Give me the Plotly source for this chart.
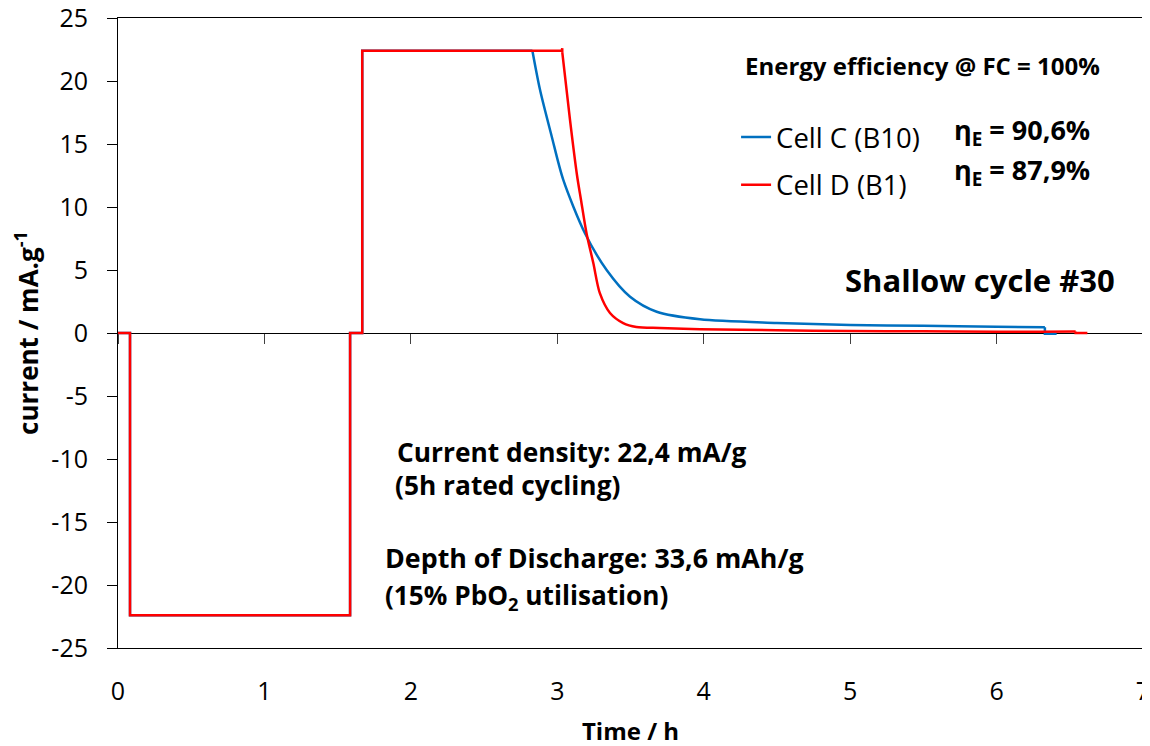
import plotly.graph_objects as go

# ---------------- data ----------------
# Cell D (B1) - red : rectangular part, charge decay, end of record
red_step_t = [0, 0.082, 0.082, 1.585, 1.585, 1.668, 1.668, 3.03, 3.034, 3.034]
red_step_y = [0, 0, -22.4, -22.4, 0, 0, 22.4, 22.4, 22.6, 22.3]
red_decay_t = [3.034, 3.087, 3.135, 3.162, 3.20, 3.246, 3.29, 3.36, 3.45, 3.54,
               3.70, 3.975, 4.5, 5.0, 5.5, 6.0, 6.3, 6.54]
red_decay_y = [22.3, 16.9, 12.5, 10.56, 7.9, 5.55, 3.18, 1.59, 0.79, 0.48,
               0.4, 0.3, 0.22, 0.16, 0.13, 0.1, 0.1, 0.12]
red_tail_t = [6.54, 6.54, 6.62]
red_tail_y = [0.12, 0, 0]

# Cell C (B10) - blue
blue_step_t = [0, 0.082, 0.082, 1.585, 1.585, 1.668, 1.668, 2.83]
blue_step_y = [0, 0, -22.4, -22.4, 0, 0, 22.4, 22.4]
blue_decay_t = [2.83, 2.882, 2.962, 3.041, 3.189, 3.337, 3.497, 3.679, 3.975,
                4.5, 5.0, 5.5, 6.0, 6.33]
blue_decay_y = [22.4, 19.3, 15.6, 12.15, 7.92, 5.0, 2.88, 1.69, 1.09,
                0.8, 0.64, 0.57, 0.5, 0.45]
blue_tail_t = [6.33, 6.33, 6.41]
blue_tail_y = [0.45, -0.05, -0.05]

y_tickvals = [-25, -20, -15, -10, -5, 0, 5, 10, 15, 20, 25]
y_ticktext = ["-25", "-20", "-15", "-10", "-5", "0", "5", "10", "15", "20", "25"]
x_tickvals = [0, 1, 2, 3, 4, 5, 6, 7]
x_ticktext = ["0", "1", "2", "3", "4", "5", "6", "7"]

FONT = "Open Sans"
BLUE = "#0070C0"
RED = "#FF0000"
LW = 2.5

fig = go.Figure()
series = [
    ("Cell C (B10)", "c", BLUE, [(blue_step_t, blue_step_y, "linear"),
                                 (blue_decay_t, blue_decay_y, "spline"),
                                 (blue_tail_t, blue_tail_y, "linear")]),
    ("Cell D (B1)", "d", RED, [(red_step_t, red_step_y, "linear"),
                               (red_decay_t, red_decay_y, "spline"),
                               (red_tail_t, red_tail_y, "linear")]),
]
for name, grp, col, parts in series:
    for i, (tx, ty, shape) in enumerate(parts):
        fig.add_trace(go.Scatter(x=tx, y=ty, mode="lines", name=name,
                                 legendgroup=grp, showlegend=(i == 0),
                                 line=dict(color=col, width=LW, shape=shape,
                                           smoothing=0.8 if shape == "spline" else None)))

# invisible trace to carry the zero-crossing axis
fig.add_trace(go.Scatter(x=[0, 7], y=[0, 0], mode="lines", xaxis="x2", yaxis="y",
                         line=dict(width=0), showlegend=False, hoverinfo="skip"))

# the page body adds an 8px offset, so the margins compensate for it
fig.update_layout(
    width=1150, height=746,
    margin=dict(l=110, r=15, t=10, b=106, autoexpand=False),
    paper_bgcolor="white", plot_bgcolor="white",
    font=dict(family=FONT, color="black"),
    showlegend=True,
    legend=dict(x=0.603, y=0.850, xanchor="left", yanchor="top",
                font=dict(family=FONT, size=27.5, color="black"),
                bgcolor="rgba(0,0,0,0)", tracegroupgap=9, itemwidth=30),
    xaxis=dict(range=[0, 7], tickvals=x_tickvals, ticktext=x_ticktext,
               showgrid=False, zeroline=False, showline=True, linecolor="black",
               linewidth=1, mirror=True, ticks="", ticklabelstandoff=21,
               automargin=False, ticklabeloverflow="allow",
               tickfont=dict(family=FONT, size=25, color="black"),
               title=dict(text="<b>Time / h</b>", font=dict(family=FONT, size=24),
                          standoff=17)),
    xaxis2=dict(range=[0, 7], overlaying="x", anchor="free", position=0.5,
                side="bottom", tickvals=x_tickvals, showticklabels=False,
                ticks="outside", ticklen=10, tickcolor="#404040", tickwidth=1,
                showline=True, linecolor="black", linewidth=1, showgrid=False,
                zeroline=False, layer="below traces", automargin=False),
    yaxis=dict(range=[-25, 25], tickvals=y_tickvals, ticktext=y_ticktext,
               showgrid=False, zeroline=False, showline=True, linecolor="black",
               linewidth=1, mirror=True, ticks="outside", ticklen=10,
               tickcolor="black", ticklabelstandoff=14, automargin=False,
               ticklabeloverflow="allow",
               tickfont=dict(family=FONT, size=25, color="black"),
               title=dict(text="<b>current / mA.g<sup>-1</sup></b>",
                          font=dict(family=FONT, size=26), standoff=11)),
)

annotations = [
    dict(text="<b>Energy efficiency @ FC = 100%</b>", x=0.61, y=0.925, size=24),
    dict(text="<b>η<sub>E</sub> = 90,6%</b>", x=0.814, y=0.820, size=27),
    dict(text="<b>η<sub>E</sub> = 87,9%</b>", x=0.814, y=0.757, size=27),
    dict(text="<b>Shallow cycle #30</b>", x=0.707, y=0.584, size=31),
    dict(text="<b>Current density: 22,4 mA/g</b>", x=0.270, y=0.311, size=26.3),
    dict(text="<b>(5h rated cycling)</b>", x=0.268, y=0.258, size=26.3),
    dict(text="<b>Depth of Discharge: 33,6 mAh/g</b>", x=0.2585, y=0.143, size=26.8),
    dict(text="<b>(15% PbO<sub>2</sub> utilisation)</b>", x=0.2585, y=0.081, size=26.2),
]
for a in annotations:
    fig.add_annotation(text=a["text"], x=a["x"], y=a["y"], xref="paper", yref="paper",
                       xanchor="left", yanchor="middle", showarrow=False,
                       font=dict(size=a["size"], family=FONT, color="black"))

fig.write_html("out.html")
